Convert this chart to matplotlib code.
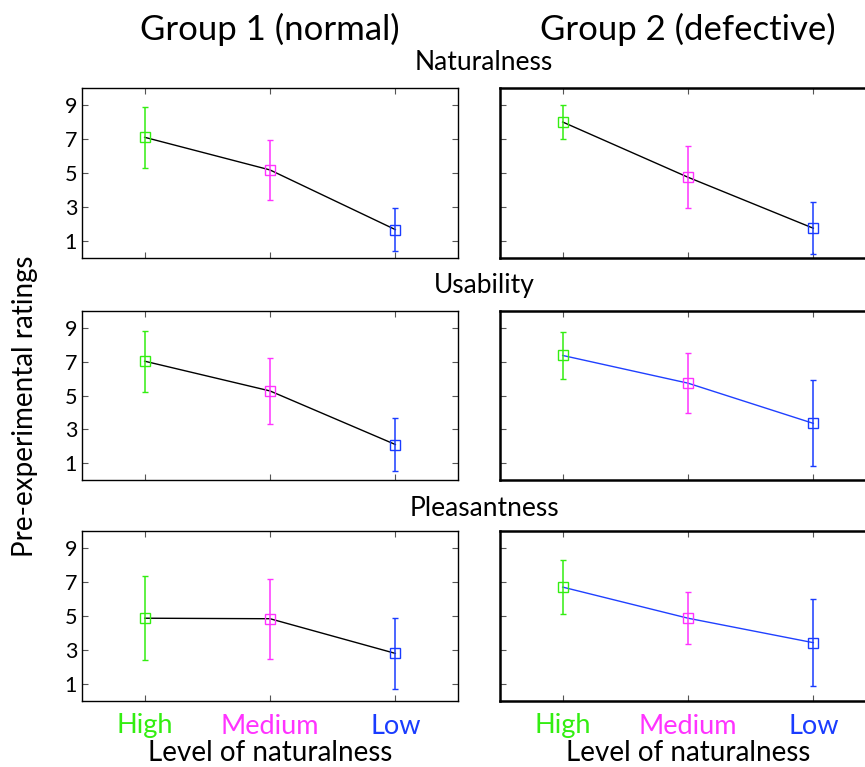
import matplotlib
matplotlib.use('Agg')
from matplotlib import pyplot as plt

plt.rcParams['font.family'] = ['Lato', 'DejaVu Sans']

levels = ['High', 'Medium', 'Low']
level_colors = ['#33ee11', '#ff33ff', '#1a3cff']
groups = ['Group 1 (normal)', 'Group 2 (defective)']
measures = ['Naturalness', 'Usability', 'Pleasantness']

# means and error bars (rows = measures, order High, Medium, Low)
g1_mean = [[7.1, 5.18, 1.67], [7.03, 5.27, 2.1], [4.87, 4.84, 2.8]]
g1_err = [[1.78, 1.78, 1.28], [1.8, 1.95, 1.54], [2.46, 2.36, 2.1]]
g2_mean = [[8.0, 4.75, 1.75], [7.37, 5.73, 3.35], [6.7, 4.87, 3.43]]
g2_err = [[1.0, 1.83, 1.52], [1.37, 1.78, 2.55], [1.6, 1.54, 2.55]]

line_colors = [['black', 'black', 'black'], ['black', '#2040ff', '#2040ff']]

W, H = 865, 767
fig = plt.figure(figsize=(W / 100, H / 100), dpi=100)

col_x = [82, 500]
ax_w = 376
row_y = [(88, 258), (311, 480), (531, 701)]

means = [g1_mean, g2_mean]
errs = [g1_err, g2_err]
x = [1, 2, 3]

for c in range(2):
  for r in range(3):
    top, bot = row_y[r]
    ax = fig.add_axes([col_x[c] / W, (H - bot) / H, ax_w / W, (bot - top) / H])
    ax.plot(x, means[c][r], color=line_colors[c][r], lw=1, zorder=2)
    for i in range(3):
      ax.errorbar(x[i], means[c][r][i], yerr=errs[c][r][i], fmt='s',
                  color=level_colors[i], mfc='none', ms=7, mew=1,
                  elinewidth=1.1, capsize=2, capthick=1, zorder=3)
    ax.set_xlim(0.5, 3.5)
    ax.set_ylim(0, 10)
    ax.set_yticks([1, 3, 5, 7, 9])
    ax.set_xticks(x)
    ax.tick_params(direction='in', length=4, color='#555555', top=True, right=True,
                   labelsize=15.5)
    for s in ax.spines.values():
      s.set_linewidth(1.0 if c == 0 else 1.8)
    if c == 1:
      ax.set_yticklabels([])
    if r < 2:
      ax.set_xticklabels([])
    else:
      ax.set_xticklabels(levels, fontsize=19.5)
      for lab, col in zip(ax.get_xticklabels(), level_colors):
        lab.set_color(col)
      ax.tick_params(axis='x', pad=9)
      ax.set_xlabel('Level of naturalness', fontsize=20, labelpad=1)
    if r == 0:
      ax.text(0.5, 1.25, groups[c], transform=ax.transAxes, ha='center',
              va='bottom', fontsize=25)

fig.text(484 / W, 1 - 62 / H, measures[0], ha='center', va='center', fontsize=19)
fig.text(484 / W, 1 - 285 / H, measures[1], ha='center', va='center', fontsize=19)
fig.text(484 / W, 1 - 508 / H, measures[2], ha='center', va='center', fontsize=19)
fig.text(25 / W, 1 - 406 / H, 'Pre-experimental ratings', rotation=90,
         ha='center', va='center', fontsize=20)

fig.savefig('out.png', dpi=100)
